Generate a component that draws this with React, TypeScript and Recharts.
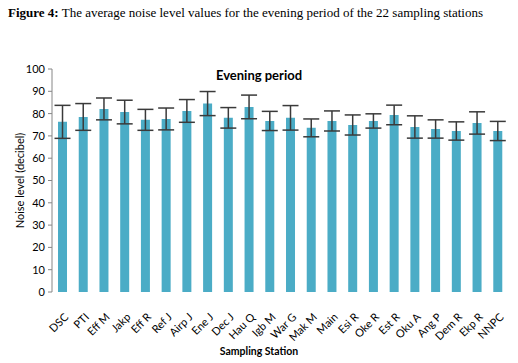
import React from "react";
import { BarChart, Bar, XAxis, YAxis, ErrorBar } from "recharts";

const stations = ["DSC", "PTI", "Eff M", "Jakp", "Eff R", "Ref J", "Airp J", "Ene J", "Dec J", "Hau Q", "Igb M", "War G", "Mak M", "Main", "Esi R", "Oke R", "Est R", "Oku A", "Ang P", "Dem R", "Ekp R", "NNPC"];
const means = [76.3, 78.5, 82.1, 80.7, 77.2, 77.6, 81.2, 84.5, 78.1, 83.0, 76.7, 78.1, 73.6, 76.7, 74.9, 76.7, 79.4, 74.0, 73.1, 72.2, 75.8, 72.2];
const errors = [7.4, 6.0, 4.9, 5.3, 4.7, 4.9, 5.1, 5.4, 4.6, 5.3, 4.3, 5.5, 4.0, 4.5, 4.5, 3.2, 4.4, 5.0, 4.1, 4.1, 5.0, 4.3];
const yTicks = [0, 10, 20, 30, 40, 50, 60, 70, 80, 90, 100];

const data = stations.map((s, i) => ({ station: s, mean: means[i], err: errors[i] }));
const boundaryTicks = stations.map((_, i) => i).concat([stations.length]);

const FONT = "Lato, 'Open Sans', sans-serif";

const XTick = (props: any) => {
  const { x, y, payload } = props;
  return (
    <g transform={`translate(${x + 4},${y + 15})`}>
      <text textAnchor="end" transform="rotate(-45)" fontSize={11} fill="#000" fontFamily={FONT} dy="0.35em">
        {payload.value}
      </text>
    </g>
  );
};

export default function App() {
  return (
    <div style={{ position: "absolute", left: 0, top: 0, width: 518, height: 363, background: "#fff", overflow: "hidden" }}>
      <div style={{ position: "absolute", left: 8, top: 5, fontFamily: "'Liberation Serif', serif", fontSize: 13, whiteSpace: "nowrap", color: "#000" }}>
        <b>Figure 4:</b> The average noise level values for the evening period of the 22 sampling stations
      </div>
      <div style={{ position: "absolute", left: 0, top: 0 }}>
        <BarChart width={518} height={363} data={data} margin={{ top: 69, right: 10, bottom: 1, left: 12 }} barCategoryGap="29%">
          <text x={259} y={75} textAnchor="middle" dominantBaseline="central" fontFamily={FONT} fontWeight="bold" fontSize={13} fill="#000">Evening period</text>
          <XAxis
            xAxisId="b"
            type="number"
            domain={[0, stations.length]}
            ticks={boundaryTicks}
            allowDataOverflow
            height={0}
            tick={false}
            tickSize={5}
            stroke="#868686"
            axisLine={{ stroke: "#868686" }}
          />
          <XAxis
            dataKey="station"
            xAxisId="a"
            height={70}
            interval={0}
            tickLine={false}
            axisLine={false}
            tick={<XTick />}
            label={() => (
              <text x={259} y={351} textAnchor="middle" dominantBaseline="central" fontFamily={FONT} fontWeight="bold" fontSize={10.5} fill="#000">
                Sampling Station
              </text>
            )}
          />
          <YAxis
            domain={[0, 100]}
            ticks={yTicks}
            width={40}
            tickSize={4}
            tickMargin={3}
            stroke="#868686"
            tick={{ fill: "#000", fontSize: 11, fontFamily: FONT }}
            label={({ viewBox }: any) => (
              <text x={19} y={viewBox.y + viewBox.height / 2} transform={`rotate(-90, 19, ${viewBox.y + viewBox.height / 2})`} textAnchor="middle" dominantBaseline="central" fontSize={11} fontFamily={FONT} fill="#000">
                Noise level (decibel)
              </text>
            )}
          />
          <Bar dataKey="mean" xAxisId="a" fill="#4bacc6" isAnimationActive={false}>
            <ErrorBar dataKey="err" width={8} stroke="#3a3a3a" strokeWidth={1.5} />
          </Bar>
        </BarChart>
      </div>
    </div>
  );
}
